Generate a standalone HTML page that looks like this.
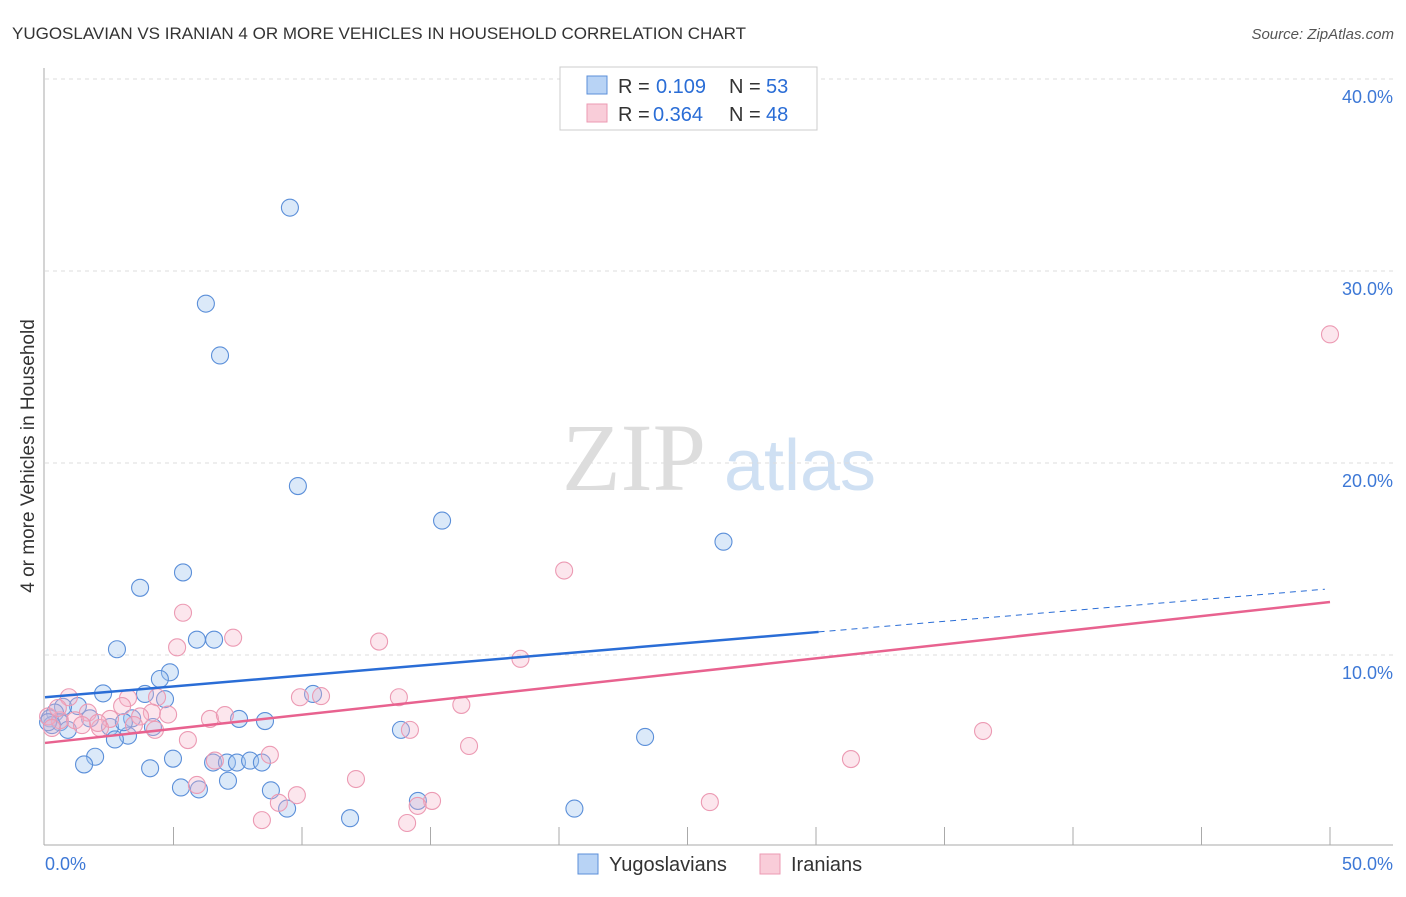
<!DOCTYPE html>
<html><head><meta charset="utf-8"><style>
body{margin:0;background:#fff;font-family:"Liberation Sans",sans-serif}
</style></head><body>
<svg width="1406" height="892" viewBox="0 0 1406 892" xmlns="http://www.w3.org/2000/svg">
<text x="12" y="39" font-size="17" fill="#333">YUGOSLAVIAN VS IRANIAN 4 OR MORE VEHICLES IN HOUSEHOLD CORRELATION CHART</text>
<text x="1394" y="39" font-size="15" fill="#555" text-anchor="end" font-style="italic">Source: ZipAtlas.com</text>
<text x="634" y="490" font-size="96" fill="#ddd" font-family="Liberation Serif,serif" text-anchor="middle">ZIP</text>
<text x="800" y="490" font-size="72" fill="#cfe0f3" text-anchor="middle">atlas</text>
<g id="grid"></g>
<g id="axes"></g>
<g id="pts"></g>
<g id="lines"></g>
<text x="34" y="456" font-size="19" fill="#333" text-anchor="middle" transform="rotate(-90 34 456)">4 or more Vehicles in Household</text>
<g>
<rect x="560" y="67" width="257" height="63" fill="#fff" stroke="#ccc"/>
<rect x="587" y="76" width="20" height="18" fill="#b8d3f5" stroke="#5b8fd9"/>
<rect x="587" y="104" width="20" height="18" fill="#f9cdd9" stroke="#ec9ab3"/>
<text x="618" y="93" font-size="20" fill="#333">R =</text>
<text x="656" y="93" font-size="20" fill="#2a6dd6">0.109</text>
<text x="729" y="93" font-size="20" fill="#333">N =</text>
<text x="766" y="93" font-size="20" fill="#2a6dd6">53</text>
<text x="618" y="121" font-size="20" fill="#333">R =</text>
<text x="653" y="121" font-size="20" fill="#2a6dd6">0.364</text>
<text x="729" y="121" font-size="20" fill="#333">N =</text>
<text x="766" y="121" font-size="20" fill="#2a6dd6">48</text>
</g>
<g>
<rect x="578" y="854" width="20" height="20" fill="#b8d3f5" stroke="#5b8fd9"/>
<text x="609" y="871" font-size="20" fill="#333">Yugoslavians</text>
<rect x="760" y="854" width="20" height="20" fill="#f9cdd9" stroke="#ec9ab3"/>
<text x="791" y="871" font-size="20" fill="#333">Iranians</text>
</g>
</svg>
<script>
const yTicks=[10,20,30,40];
const yTickLabels=["10.0%","20.0%","30.0%","40.0%"];
const xTickLabels=["0.0%","50.0%"];
const blueX=[9.53,6.26,6.81,9.84,15.45,26.4,5.37,3.70,2.80,5.91,6.58,4.86,4.47,2.26,3.89,4.67,1.28,0.70,0.39,0.19,0.58,0.89,2.53,3.23,2.72,3.39,4.20,7.55,8.56,10.43,13.85,23.35,1.95,1.52,4.09,4.98,6.54,7.08,7.47,7.98,8.44,7.12,5.29,5.99,8.79,9.42,14.51,20.6,11.87,0.27,0.12,3.07,1.75];
const blueY=[33.3,28.3,25.6,18.8,17.0,15.9,14.3,13.5,10.3,10.8,10.8,9.1,8.75,8.0,7.97,7.7,7.34,7.3,7.0,6.7,6.5,6.1,6.25,5.8,5.6,6.7,6.25,6.67,6.56,7.97,6.1,5.73,4.7,4.3,4.1,4.6,4.4,4.4,4.4,4.5,4.4,3.45,3.1,3.0,2.95,2.0,2.4,2.0,1.5,6.35,6.5,6.5,6.7];
const pinkX=[50.0,20.2,5.37,5.14,7.32,13.0,18.5,0.93,3.23,4.36,9.92,10.74,13.77,16.2,4.16,4.79,3.0,1.67,2.53,6.42,7.0,0.58,1.17,0.12,0.27,2.14,3.70,4.28,5.56,8.75,6.61,14.2,16.5,36.5,31.36,12.1,5.91,9.8,9.1,15.06,25.87,14.5,8.44,14.09,0.5,2.06,1.44,3.46];
const pinkY=[26.7,14.4,12.2,10.4,10.9,10.7,9.8,7.8,7.76,7.8,7.8,7.86,7.8,7.4,7.0,6.9,7.34,7.0,6.67,6.67,6.87,6.6,6.6,6.8,6.2,6.2,6.8,6.1,5.57,4.8,4.5,6.1,5.26,6.04,4.58,3.54,3.23,2.7,2.3,2.4,2.34,2.14,1.4,1.25,7.24,6.46,6.35,6.35];
const blueTrend=[7.8,0.113];
const pinkTrend=[5.42,0.1468];
const NS="http://www.w3.org/2000/svg";
const sx=v=>45+v/50*1285;
const sy=v=>847-v*19.2;
function mk(tag,attrs,parent){const e=document.createElementNS(NS,tag);for(const k in attrs)e.setAttribute(k,attrs[k]);document.getElementById(parent).appendChild(e);return e;}
mk('line',{x1:45,x2:1393,y1:79,y2:79,stroke:'#ddd','stroke-dasharray':'4,4'},'grid');
yTicks.forEach((t,i)=>{
 const l=mk('line',{x1:45,x2:1393,y1:sy(t),y2:sy(t),stroke:'#ddd','stroke-dasharray':'4,4'},'grid');
 
 
 const tx=mk('text',{x:1393,y:sy(t)+24,'font-size':18,fill:'#3d78d6','text-anchor':'end'},'grid');
 tx.textContent=yTickLabels[i];
 
 
});
mk('line',{x1:44,x2:44,y1:68,y2:845,stroke:'#aaa'},'axes');
mk('line',{x1:44,x2:1393,y1:845,y2:845,stroke:'#aaa'},'axes');
for(let k=1;k<=10;k++){mk('line',{x1:sx(k*5),x2:sx(k*5),y1:827,y2:845,stroke:'#aaa'},'axes');}
let t1=mk('text',{x:45,y:870,'font-size':18,fill:'#3d78d6'},'axes');t1.textContent=xTickLabels[0];


let t2=mk('text',{x:1393,y:870,'font-size':18,fill:'#3d78d6','text-anchor':'end'},'axes');t2.textContent=xTickLabels[1];


blueX.forEach((x,i)=>{const c=mk('circle',{cx:sx(x),cy:sy(blueY[i]),r:8.5,fill:'rgba(160,196,240,0.38)',stroke:'#5b8fd9','stroke-width':1.1},'pts');
 
 });
pinkX.forEach((x,i)=>{const c=mk('circle',{cx:sx(x),cy:sy(pinkY[i]),r:8.5,fill:'rgba(246,180,200,0.33)',stroke:'#ec9ab3','stroke-width':1.1},'pts');
 
 });
const bt=x=>blueTrend[0]+blueTrend[1]*x, pt=x=>pinkTrend[0]+pinkTrend[1]*x;
let l1=mk('line',{x1:sx(0),y1:sy(bt(0)),x2:sx(30.1),y2:sy(bt(30.1)),stroke:'#2a6dd6','stroke-width':2.5},'lines');


let l2=mk('line',{x1:sx(30.1),y1:sy(bt(30.1)),x2:sx(49.8),y2:sy(bt(49.8)),stroke:'#2a6dd6','stroke-width':1,'stroke-dasharray':'6,5'},'lines');


let l3=mk('line',{x1:sx(0),y1:sy(pt(0)),x2:sx(50),y2:sy(pt(50)),stroke:'#e8628f','stroke-width':2.5},'lines');


</script>
</body></html>
